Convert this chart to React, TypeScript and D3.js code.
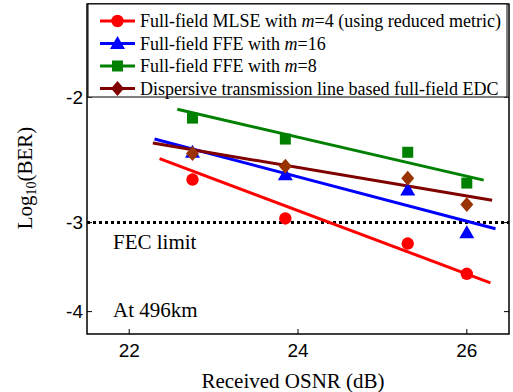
import * as d3 from 'd3';

// Received OSNR (dB) at the measured points
const osnr = [22.75, 23.85, 25.3, 26.0];

// measured Log10(BER)
const mlse = [-2.61, -2.96, -3.21, -3.54];
const ffe16 = [-2.39, -2.57, -2.7, -3.1];
const ffe8 = [-2.14, -2.29, -2.39, -2.64];
const dtl = [-2.4, -2.5, -2.6, -2.83];

// straight fit lines (start / end)
const mlseFitX = [22.36, 26.28];
const mlseFitY = [-2.44, -3.645];
const ffe16FitX = [22.3, 26.34];
const ffe16FitY = [-2.29, -3.06];
const ffe8FitX = [22.57, 26.2];
const ffe8FitY = [-2.08, -2.615];
const dtlFitX = [22.28, 26.3];
const dtlFitY = [-2.32, -2.79];

const xTicks = [22, 24, 26];
const yTicks = [-2, -3, -4];
const fecLimit = -3;

const W = 513;
const H = 392;
const left = 87;
const right = 509;
const top = 4;
const bottom = 334;

const serif = '"Liberation Serif", "Times New Roman", serif';
const sans = '"Liberation Sans", Arial, sans-serif';

type Shape = 'circle' | 'triangle' | 'square' | 'diamond';

function Marker({ shape, cx, cy, fill }: { shape: Shape; cx: number; cy: number; fill: string }) {
  if (shape === 'circle') return <circle cx={cx} cy={cy} r={6.2} fill={fill} />;
  if (shape === 'square') return <rect x={cx - 5.5} y={cy - 5.5} width={11} height={11} fill={fill} />;
  if (shape === 'triangle')
    return <path d={`M${cx},${cy - 7.5}L${cx + 7.5},${cy + 5.5}L${cx - 7.5},${cy + 5.5}Z`} fill={fill} />;
  return <path d={`M${cx},${cy - 7.5}L${cx + 6.5},${cy}L${cx},${cy + 7.5}L${cx - 6.5},${cy}Z`} fill={fill} />;
}

export default function App() {
  const x = d3.scaleLinear().domain([21.5, 26.5]).range([left, right]);
  // axis is log10(-log10 BER); labels show log10(BER)
  const logY = d3.scaleLog().domain([1.48, 4.3]).range([top, bottom]);
  const y = (v: number) => logY(-v);

  const line = d3
    .line<[number, number]>()
    .x(d => x(d[0]))
    .y(d => y(d[1]));

  const series = [
    { name: 'mlse', vals: mlse, fx: mlseFitX, fy: mlseFitY, color: '#ff0000', mcolor: '#ff0000', legColor: '#ff0000', shape: 'circle' as Shape },
    { name: 'ffe16', vals: ffe16, fx: ffe16FitX, fy: ffe16FitY, color: '#0000ff', mcolor: '#0000ff', legColor: '#0000ff', shape: 'triangle' as Shape },
    { name: 'ffe8', vals: ffe8, fx: ffe8FitX, fy: ffe8FitY, color: '#008000', mcolor: '#008000', legColor: '#008000', shape: 'square' as Shape },
    { name: 'dtl', vals: dtl, fx: dtlFitX, fy: dtlFitY, color: '#800000', mcolor: '#993300', legColor: '#800000', shape: 'diamond' as Shape },
  ];

  const legend = [
    { label: <>Full-field MLSE with <tspan fontStyle="italic">m</tspan>=4 (using reduced metric)</> },
    { label: <>Full-field FFE with <tspan fontStyle="italic">m</tspan>=16</> },
    { label: <>Full-field FFE with <tspan fontStyle="italic">m</tspan>=8</> },
    { label: <>Dispersive transmission line based full-field EDC</> },
  ];

  return (
    <svg width={W} height={H} style={{ position: 'absolute', left: 0, top: 0, background: '#fff' }}>
      <rect width={W} height={H} fill="#fff" />

      {/* FEC limit */}
      <line x1={left} x2={right} y1={y(fecLimit)} y2={y(fecLimit)} stroke="#000" strokeWidth={3} strokeDasharray="3,3" />

      {/* fit lines */}
      {series.map(s => (
        <path
          key={s.name + '-fit'}
          d={line(s.fx.map((v, i) => [v, s.fy[i]] as [number, number])) ?? ''}
          stroke={s.color}
          strokeWidth={3}
          fill="none"
        />
      ))}

      {/* markers */}
      {series.map(s =>
        s.vals.map((v, i) => (
          <Marker key={s.name + i} shape={s.shape} cx={x(osnr[i])} cy={y(v)} fill={s.mcolor} />
        ))
      )}

      {/* axes box */}
      <rect x={left} y={top} width={right - left} height={bottom - top} fill="none" stroke="#000" strokeWidth={1.5} />
      {xTicks.map(t => (
        <g key={'xt' + t}>
          <line x1={x(t)} x2={x(t)} y1={bottom} y2={bottom - 5} stroke="#000" />
          <line x1={x(t)} x2={x(t)} y1={top} y2={top + 5} stroke="#000" />
          <text x={x(t)} y={357} textAnchor="middle" fontFamily={sans} fontSize={19}>
            {t}
          </text>
        </g>
      ))}
      {yTicks.map(t => (
        <g key={'yt' + t}>
          <line x1={left} x2={left + 5} y1={y(t)} y2={y(t)} stroke="#000" />
          <line x1={right} x2={right - 5} y1={y(t)} y2={y(t)} stroke="#000" />
          <text x={83} y={y(t)} dy="0.35em" textAnchor="end" fontFamily={sans} fontSize={19}>
            {t}
          </text>
        </g>
      ))}

      {/* legend */}
      <rect x={left + 1} y={top} width={419} height={93} fill="#fff" stroke="#000" strokeWidth={1} />
      {series.map((s, i) => {
        const cy = 21 + i * 22.5;
        return (
          <g key={s.name + '-leg'}>
            <line x1={100} x2={135} y1={cy} y2={cy} stroke={s.legColor} strokeWidth={3} />
            <Marker shape={s.shape} cx={117.5} cy={cy} fill={s.legColor} />
            <text x={140} y={cy + 6} fontFamily={serif} fontSize={18}>
              {legend[i].label}
            </text>
          </g>
        );
      })}

      {/* annotations */}
      <text x={113} y={249} fontFamily={serif} fontSize={21}>FEC limit</text>
      <text x={113} y={317} fontFamily={serif} fontSize={21}>At 496km</text>

      {/* axis labels */}
      <text x={293} y={388} textAnchor="middle" fontFamily={serif} fontSize={21}>
        Received OSNR (dB)
      </text>
      <text transform="translate(32,178) rotate(-90)" textAnchor="middle" fontFamily={serif} fontSize={21}>
        Log<tspan fontSize={14} dy={4}>10</tspan>
        <tspan dy={-4}>(BER)</tspan>
      </text>
    </svg>
  );
}
